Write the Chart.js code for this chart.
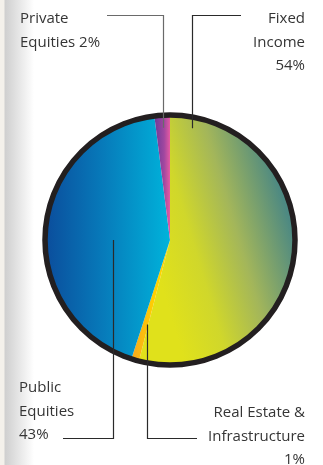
<!DOCTYPE html>
<html>
<head>
<meta charset="utf-8">
<script src="https://cdn.jsdelivr.net/npm/chart.js@4/dist/chart.umd.min.js"></script>
<style>
  html, body { margin: 0; padding: 0; }
  body {
    width: 323px; height: 465px; overflow: hidden;
    background: linear-gradient(to right, #f4f1eb 0px, #f4f1eb 4px, #cfcfcf 5px, #ffffff 34px, #ffffff 100%);
  }
  #wrap { position: relative; width: 323px; height: 465px; }
</style>
</head>
<body>
<div id="wrap"><canvas id="chart" width="323" height="465"></canvas></div>
<script>
// Asset allocation pie, clockwise from 12 o'clock
const categories = ['Fixed Income', 'Real Estate & Infrastructure', 'Public Equities', 'Private Equities'];
const shares = [54, 1, 43, 2];

// label text lines for each category (same order as categories)
const labelLines = [
    ['Fixed', 'Income', '54%'],
    ['Real Estate &', 'Infrastructure', '1%'],
    ['Public', 'Equities', '43%'],
    ['Private', 'Equities 2%']
];

// where each leader line touches the slice (angle in deg from top, fraction of radius)
const anchors = [
    { angle: 11, r: 0.91 },
    { angle: 195, r: 0.70 },
    { angle: 270, r: 0.46 },
    { angle: 356.4, r: 0.90 }
];

// label layout: text block position, leader elbow
const labelLayout = [
    { x: 305, y: 23, align: 'right', elbowY: 15, lineEndX: 241, stroke: '#2a2a2a' },
    { x: 305, y: 417, align: 'right', elbowY: 438, lineEndX: 197, stroke: '#2a2a2a' },
    { x: 19, y: 392, align: 'left', elbowY: 438, lineEndX: 63, stroke: '#2a2a2a' },
    { x: 20, y: 23, align: 'left', elbowY: 15, lineEndX: 107, stroke: '#6a6a6a' }
];

function sliceFill(context) {
    const chart = context.chart;
    const area = chart.chartArea;
    if (!area) return '#ccc';
    const ctx = chart.ctx;
    const cx = (area.left + area.right) / 2;
    const cy = (area.top + area.bottom) / 2;
    const r = (area.right - area.left) / 2;
    let g;
    switch (context.dataIndex) {
        case 0:
            g = ctx.createLinearGradient(cx - 10, cy + 40, cx + r, cy);
            g.addColorStop(0, '#e0e11b');
            g.addColorStop(0.3, '#d0d72b');
            g.addColorStop(0.62, '#a3b65a');
            g.addColorStop(1, '#4d8982');
            return g;
        case 1:
            g = ctx.createLinearGradient(cx - 35, 0, cx - 15, 0);
            g.addColorStop(0, '#f7ad1a');
            g.addColorStop(1, '#ffd200');
            return g;
        case 2:
            g = ctx.createLinearGradient(cx - r, 0, cx, 0);
            g.addColorStop(0, '#0b4d9c');
            g.addColorStop(0.45, '#0779b9');
            g.addColorStop(1, '#00b3db');
            return g;
        default:
            g = ctx.createLinearGradient(cx - 15, 0, cx, 0);
            g.addColorStop(0, '#6f3a9a');
            g.addColorStop(0.6, '#a0479f');
            g.addColorStop(1, '#e65aa2');
            return g;
    }
}

const rimAndLabels = {
    id: 'rimAndLabels',
    afterDatasetsDraw(chart) {
        const ctx = chart.ctx;
        const arc = chart.getDatasetMeta(0).data[0];
        const cx = arc.x, cy = arc.y, R = arc.outerRadius;

        ctx.save();
        // black rim
        ctx.beginPath();
        ctx.arc(cx, cy, R, 0, Math.PI * 2);
        ctx.lineWidth = 5.5;
        ctx.strokeStyle = '#231f20';
        ctx.stroke();

        // leader lines
        ctx.lineWidth = 1.2;
        anchors.forEach((a, i) => {
            const rad = (a.angle - 90) * Math.PI / 180;
            const px = Math.round(cx + Math.cos(rad) * R * a.r) + 0.5;
            const py = cy + Math.sin(rad) * R * a.r;
            const lay = labelLayout[i];
            ctx.strokeStyle = lay.stroke;
            ctx.beginPath();
            ctx.moveTo(px, py);
            ctx.lineTo(px, lay.elbowY + 0.5);
            ctx.lineTo(lay.lineEndX, lay.elbowY + 0.5);
            ctx.stroke();
        });

        // text
        ctx.fillStyle = '#353535';
        ctx.font = '15px "Open Sans", sans-serif';
        ctx.textBaseline = 'alphabetic';
        labelLines.forEach((lines, i) => {
            const lay = labelLayout[i];
            ctx.textAlign = lay.align;
            lines.forEach((t, k) => ctx.fillText(t, lay.x, lay.y + k * 23.5));
        });
        ctx.restore();
    }
};

new Chart(document.getElementById('chart'), {
    type: 'pie',
    data: {
        labels: categories,
        datasets: [{
            data: shares,
            backgroundColor: sliceFill,
            borderWidth: 0,
            hoverOffset: 0
        }]
    },
    options: {
        responsive: false,
        devicePixelRatio: 1,
        animation: false,
        layout: { padding: { left: 45, right: 28, top: 115, bottom: 100 } },
        plugins: {
            legend: { display: false },
            tooltip: { enabled: false }
        }
    },
    plugins: [rimAndLabels]
});
</script>
</body>
</html>
